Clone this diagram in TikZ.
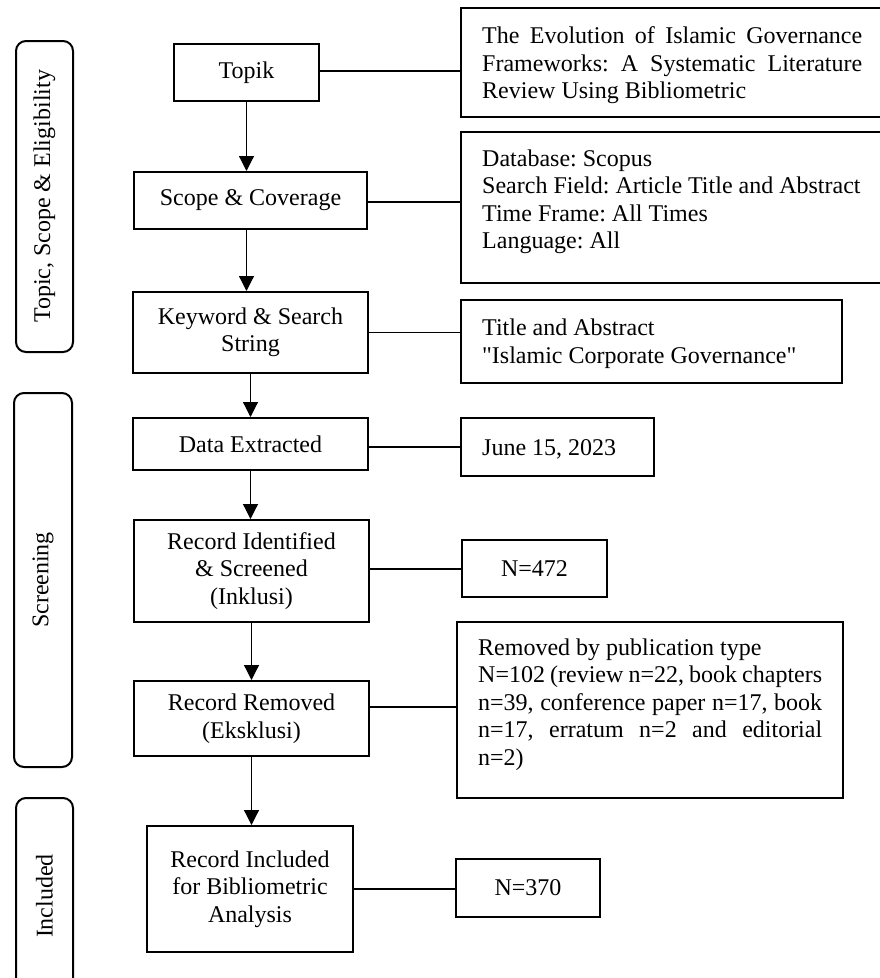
\documentclass[tikz,border=0pt]{standalone}
\usepackage{fontspec}
\setmainfont{Liberation Serif}
\newfontfamily\nomapfont{Liberation Serif}[Ligatures=TeXOff]
\usepackage{graphicx}
\usetikzlibrary{arrows.meta}
\begin{document}
\begin{tikzpicture}[x=1pt,y=-1pt,
  every node/.style={font=\fontsize{24}{27.5}\selectfont\frenchspacing, inner sep=0pt},
  box/.style={draw, line width=2pt, align=center},
  side/.style={draw, line width=2pt, rounded corners=10pt},
  conn/.style={line width=1.2pt},
  arr/.style={line width=1.2pt, -{Triangle[width=15pt,length=15pt]}}]
\useasboundingbox (0,0) rectangle (879,978);

% side labels
\node[side, minimum width=57pt, minimum height=311pt] (s1) at (44.5,196.5) {\rotatebox{90}{Topic, Scope \& Eligibility}};
\node[side, minimum width=58pt, minimum height=374pt] (s2) at (43,580) {\rotatebox{90}{Screening}};
\node[side, minimum width=57pt, minimum height=196pt] (s3) at (44.5,896) {\rotatebox{90}{Included}};

% main column
\node[box, minimum width=145pt, minimum height=57pt] (topik) at (246.5,72.5) {Topik};
\node[box, minimum width=233pt, minimum height=57pt] (scope) at (250.5,200.5) {Scope \& Coverage};
\node[box, minimum width=235pt, minimum height=81pt] (kw) at (250.5,332.5) {Keyword \& Search\\String};
\node[box, minimum width=235pt, minimum height=52pt] (data) at (250.5,444) {Data Extracted};
\node[box, minimum width=235pt, minimum height=102pt] (ident) at (251.5,571) {Record Identified\\\& Screened\\(Inklusi)};
\node[box, minimum width=235pt, minimum height=75pt] (rem) at (251.5,718.5) {Record Removed\\(Eksklusi)};
\node[box, minimum width=206pt, minimum height=126pt] (incl) at (250,889) {Record Included\\for Bibliometric\\Analysis};

% right column boxes
\node[box, minimum width=435pt, minimum height=109pt] (title) at (678.5,62.5) {};
\node[box, minimum width=435pt, minimum height=151pt] (scopeD) at (678.5,207.5) {};
\node[box, minimum width=381pt, minimum height=83pt] (kwD) at (651.5,341.5) {};
\node[box, minimum width=193pt, minimum height=58pt] (dateD) at (557.5,447) {};
\node[box, minimum width=145pt, minimum height=57pt] (n472) at (534.5,568.5) {N=472};
\node[box, minimum width=386pt, minimum height=176pt] (remD) at (650,710) {};
\node[box, minimum width=144pt, minimum height=58pt] (n370) at (528,888) {N=370};

% right column texts
\node[anchor=base west] (titleT) at (482,43.5) {\parbox[t]{380pt}{%
\makebox[380pt][s]{The Evolution of Islamic Governance}\\
\makebox[380pt][s]{Frameworks: A Systematic Literature}\\
Review Using Bibliometric}};
\node[anchor=base west] (scopeT) at (482,166) {\parbox[t]{390pt}{%
Database: Scopus\\
Search Field: Article Title and Abstract\\
Time Frame: All Times\\
Language: All}};
\node[anchor=base west] (kwT) at (482,335.5) {\parbox[t]{360pt}{%
Title and Abstract\\
{\nomapfont "}Islamic Corporate Governance{\nomapfont "}}};
\node[anchor=base west] (dateT) at (482,455) {June 15, 2023};
\node[anchor=base west] (remT) at (478,655) {\parbox[t]{344pt}{%
Removed by publication type\\
\makebox[344pt][s]{N=102 (review n=22, book chapters}\\
\makebox[344pt][s]{n=39, conference paper n=17, book}\\
\makebox[344pt][s]{n=17, erratum n=2 and editorial}\\
n=2)}};

% vertical arrows
\draw[arr] (topik.south) -- (topik.south |- scope.north);
\draw[arr] (topik.south |- scope.south) -- (topik.south |- kw.north);
\draw[arr] (kw.south) -- (kw.south |- data.north);
\draw[arr] (data.south) -- (data.south |- ident.north);
\draw[arr] (ident.south) -- (ident.south |- rem.north);
\draw[arr] (rem.south) -- (rem.south |- incl.north);

% horizontal connectors
\draw[conn] ([yshift=1.5pt]topik.east) -- ([yshift=1.5pt]topik.east -| title.west);
\draw[conn] ([yshift=-1.5pt]scope.east) -- ([yshift=-1.5pt]scope.east -| scopeD.west);
\draw[conn] (kw.east) -- (kw.east -| kwD.west);
\draw[conn] ([yshift=-3pt]data.east) -- ([yshift=-3pt]data.east -| dateD.west);
\draw[conn] ([yshift=2pt]ident.east) -- ([yshift=2pt]ident.east -| n472.west);
\draw[conn] ([yshift=11.5pt]rem.east) -- ([yshift=11.5pt]rem.east -| remD.west);
\draw[conn] (incl.east) -- (incl.east -| n370.west);
\end{tikzpicture}
\end{document}
